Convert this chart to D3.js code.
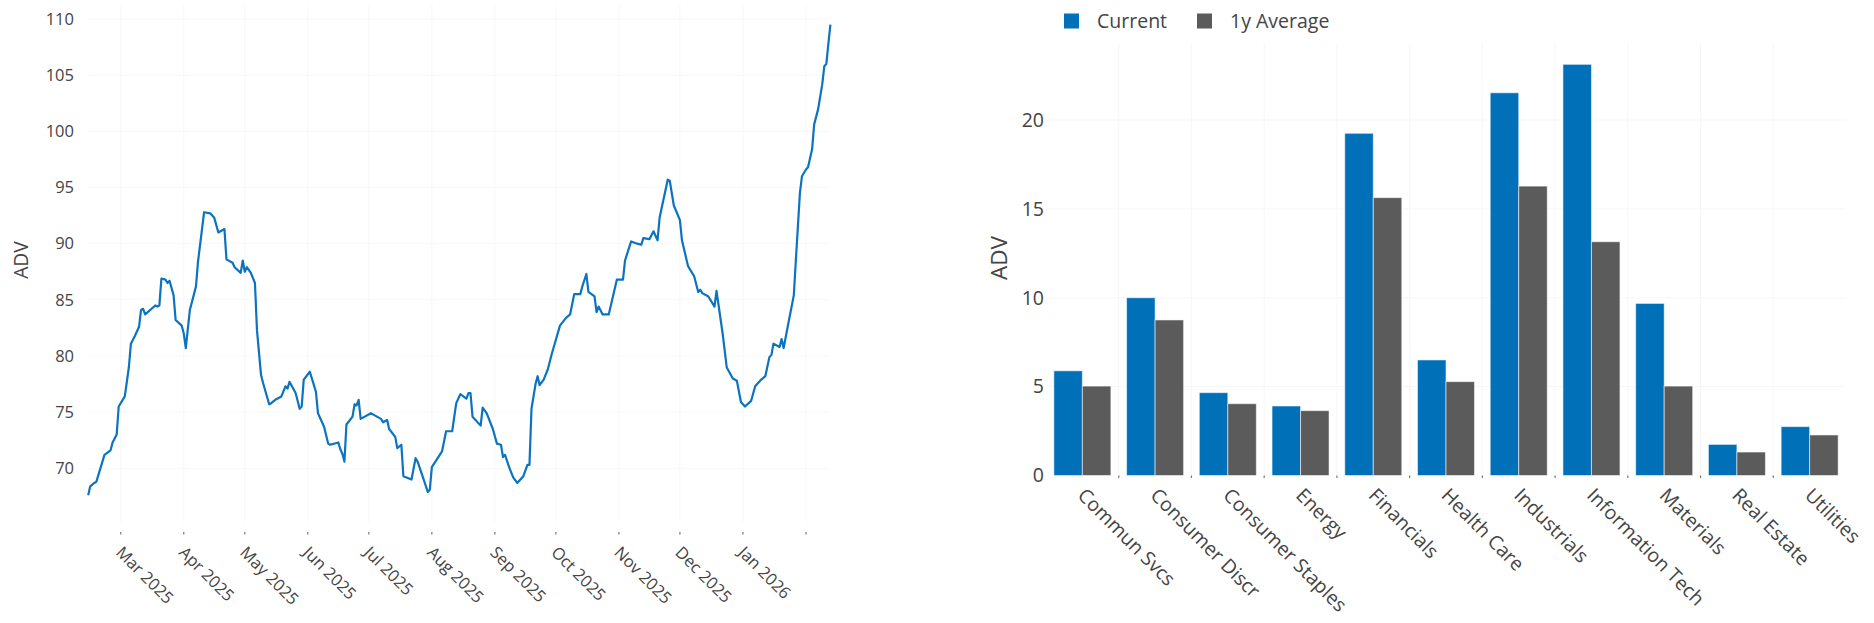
<!DOCTYPE html>
<html><head><meta charset="utf-8">
<script src="https://cdn.jsdelivr.net/npm/d3@7"></script>
<style>html,body{margin:0;padding:0;background:#fff;} svg{display:block;font-family:"Open Sans",sans-serif;}</style>
</head><body>
<svg id="chart" width="1874" height="623"></svg>
<script>
// ---------- Left chart data (ADV time series) ----------
const lineDates = ["2025-02-13","2025-02-14","2025-02-16","2025-02-17","2025-02-19","2025-02-21","2025-02-24","2025-02-25","2025-02-27","2025-02-28",
"2025-03-03","2025-03-05","2025-03-06","2025-03-08","2025-03-10","2025-03-11","2025-03-12","2025-03-13","2025-03-18","2025-03-19","2025-03-20","2025-03-21","2025-03-23","2025-03-24","2025-03-25","2025-03-27","2025-03-28","2025-03-31",
"2025-04-01","2025-04-02","2025-04-04","2025-04-07","2025-04-08","2025-04-11","2025-04-14","2025-04-16","2025-04-18","2025-04-21","2025-04-22","2025-04-25","2025-04-26","2025-04-29","2025-04-30",
"2025-05-01","2025-05-02","2025-05-04","2025-05-06","2025-05-07","2025-05-09","2025-05-10","2025-05-13","2025-05-14","2025-05-16","2025-05-19","2025-05-21","2025-05-22","2025-05-23","2025-05-26","2025-05-28","2025-05-29","2025-05-30",
"2025-06-02","2025-06-05","2025-06-06","2025-06-09","2025-06-11","2025-06-12","2025-06-16","2025-06-17","2025-06-18","2025-06-19","2025-06-20","2025-06-23","2025-06-24","2025-06-25","2025-06-26","2025-06-27",
"2025-07-02","2025-07-03","2025-07-07","2025-07-08","2025-07-10","2025-07-11","2025-07-14","2025-07-15","2025-07-17","2025-07-18","2025-07-22","2025-07-24","2025-07-25","2025-07-28","2025-07-30","2025-07-31",
"2025-08-01","2025-08-06","2025-08-08","2025-08-11","2025-08-13","2025-08-15","2025-08-18","2025-08-19","2025-08-20","2025-08-21","2025-08-25","2025-08-26","2025-08-28","2025-08-31",
"2025-09-02","2025-09-04","2025-09-05","2025-09-06","2025-09-08","2025-09-10","2025-09-12","2025-09-15","2025-09-17","2025-09-18","2025-09-19","2025-09-21","2025-09-22","2025-09-23","2025-09-25","2025-09-27","2025-09-29",
"2025-10-03","2025-10-06","2025-10-08","2025-10-10","2025-10-13","2025-10-14","2025-10-16","2025-10-17","2025-10-20","2025-10-21","2025-10-22","2025-10-24","2025-10-27","2025-10-31",
"2025-11-03","2025-11-04","2025-11-07","2025-11-10","2025-11-12","2025-11-13","2025-11-16","2025-11-18","2025-11-20","2025-11-21","2025-11-25","2025-11-26","2025-11-28",
"2025-12-01","2025-12-02","2025-12-05","2025-12-08","2025-12-10","2025-12-11","2025-12-12","2025-12-15","2025-12-18","2025-12-19","2025-12-22","2025-12-24","2025-12-27","2025-12-29","2025-12-31",
"2026-01-02","2026-01-05","2026-01-07","2026-01-10","2026-01-12","2026-01-14","2026-01-15","2026-01-16","2026-01-19","2026-01-20","2026-01-21","2026-01-23","2026-01-26","2026-01-27","2026-01-28","2026-01-29","2026-01-30",
"2026-02-01","2026-02-02","2026-02-04","2026-02-05","2026-02-07","2026-02-09","2026-02-10","2026-02-11","2026-02-12","2026-02-13"];
const lineValues = [67.6,68.4,68.7,68.8,70.0,71.2,71.6,72.3,73.0,75.5,
76.4,79.0,81.1,81.8,82.6,84.1,84.2,83.7,84.5,84.4,84.5,86.9,86.8,86.5,86.7,85.4,83.2,82.7,
82.0,80.7,84.1,86.2,88.4,92.8,92.7,92.3,91.0,91.3,88.6,88.3,87.9,87.4,88.5,
87.5,87.9,87.4,86.5,82.3,78.3,77.6,75.7,75.8,76.1,76.4,77.3,77.1,77.7,76.7,75.3,75.5,77.9,
78.6,76.8,74.9,73.7,72.2,72.1,72.3,71.7,71.3,70.6,73.9,74.6,75.7,75.6,76.1,74.4,
74.9,74.8,74.4,74.1,74.3,73.5,72.8,71.8,72.1,69.3,69.0,70.9,70.6,69.0,67.9,68.1,
70.1,71.5,73.3,73.3,75.8,76.6,76.2,76.7,76.7,74.6,73.8,75.4,74.9,73.5,
72.2,72.1,71.0,71.2,70.1,69.2,68.7,69.3,70.3,70.3,75.3,77.5,78.2,77.4,77.9,78.8,80.2,
82.7,83.4,83.7,85.5,85.5,86.2,87.3,85.7,85.3,83.9,84.4,83.7,83.7,86.8,
86.8,88.5,90.2,90.0,89.9,90.5,90.4,91.1,90.3,92.3,95.7,95.6,93.4,
92.1,90.3,88.0,87.1,85.7,85.9,85.6,85.3,84.4,85.8,82.0,79.0,78.0,77.8,75.9,
75.5,76.0,77.3,77.9,78.2,79.9,80.1,81.1,80.8,81.5,80.7,82.6,85.4,88.5,91.5,94.5,96.0,
96.6,96.8,98.4,100.6,102.0,104.2,105.8,106.0,107.8,109.5];
const monthTicks = ["2025-03-01","2025-04-01","2025-05-01","2025-06-01","2025-07-01","2025-08-01","2025-09-01","2025-10-01","2025-11-01","2025-12-01","2026-01-01","2026-02-01"];
const monthTickLabels = ["Mar 2025","Apr 2025","May 2025","Jun 2025","Jul 2025","Aug 2025","Sep 2025","Oct 2025","Nov 2025","Dec 2025","Jan 2026",""];
const lineYTicks = [70,75,80,85,90,95,100,105,110];

// ---------- Right chart data (sector ADV) ----------
const sectors = ["Commun Svcs","Consumer Discr","Consumer Staples","Energy","Financials","Health Care","Industrials","Information Tech","Materials","Real Estate","Utilities"];
const currentADV = [5.89,10.0,4.66,3.91,19.25,6.5,21.53,23.13,9.68,1.75,2.75];
const avgADV = [5.03,8.75,4.04,3.65,15.63,5.28,16.28,13.15,5.03,1.32,2.28];
const barYTicks = [0,5,10,15,20];
const seriesNames = ["Current","1y Average"];
const seriesColors = ["#0070b8","#5b5b5b"];

const svg = d3.select("#chart");
const textColor = "#444";
const gridColor = "#f7f7f7";
const parse = d3.utcParse("%Y-%m-%d");

// ================= LEFT: line chart =================
const L = {left: 88.2, right: 830.4, top: 5, bottom: 522, font: 16.5};
const x = d3.scaleUtc().domain([parse("2025-02-13"), parse("2026-02-13")]).range([L.left, L.right]);
const y = d3.scaleLinear().domain([65.22, 111.25]).range([L.bottom, L.top]);
const gL = svg.append("g");

gL.append("g").selectAll("line").data(lineYTicks).join("line")
  .attr("x1", L.left).attr("x2", L.right)
  .attr("y1", d => y(d)).attr("y2", d => y(d))
  .attr("stroke", gridColor).attr("stroke-width", 1);
gL.append("g").selectAll("line").data(monthTicks).join("line")
  .attr("x1", d => x(parse(d))).attr("x2", d => x(parse(d)))
  .attr("y1", L.top).attr("y2", L.bottom)
  .attr("stroke", gridColor).attr("stroke-width", 1);

// x ticks
gL.append("g").selectAll("line").data(monthTicks).join("line")
  .attr("x1", d => x(parse(d))).attr("x2", d => x(parse(d)))
  .attr("y1", 532).attr("y2", 534.5)
  .attr("stroke", "#777").attr("stroke-width", 1.2);
gL.append("g").selectAll("text").data(monthTicks).join("text")
  .attr("transform", d => `translate(${x(parse(d)) - 5.7},553.5) rotate(45)`)
  .attr("text-anchor", "start")
  .attr("font-size", L.font).attr("fill", textColor)
  .text((d, i) => monthTickLabels[i]);

// y tick labels
gL.append("g").selectAll("text").data(lineYTicks).join("text")
  .attr("x", 74).attr("y", d => y(d)).attr("dy", "0.35em")
  .attr("text-anchor", "end").attr("font-size", L.font).attr("fill", textColor)
  .text(d => d);

gL.append("text")
  .attr("transform", "translate(21.5,260) rotate(-90)")
  .attr("text-anchor", "middle").attr("dy", "0.35em")
  .attr("font-size", 19.3).attr("fill", textColor).text("ADV");

const lineData = lineDates.map((d, i) => ({date: parse(d), value: lineValues[i]}));
gL.append("path").datum(lineData)
  .attr("fill", "none").attr("stroke", "#0b73c0").attr("stroke-width", 2.2)
  .attr("stroke-linejoin", "round")
  .attr("d", d3.line().x(d => x(d.date)).y(d => y(d.value)));

// ================= RIGHT: grouped bar chart =================
const R = {left: 1046, right: 1846, top: 43, bottom: 475.5, font: 19.5};
const xb = d3.scaleBand().domain(sectors).range([R.left, R.right]).paddingInner(0.216).paddingOuter(0.108);
const xs = d3.scaleBand().domain(seriesNames).range([0, xb.bandwidth()]);
const yb = d3.scaleLinear().domain([0, 24.33]).range([R.bottom, R.top]);
const gR = svg.append("g");
const step = xb.step();

gR.append("g").selectAll("line").data(barYTicks.filter(d => d > 0)).join("line")
  .attr("x1", R.left).attr("x2", R.right)
  .attr("y1", d => yb(d)).attr("y2", d => yb(d))
  .attr("stroke", gridColor).attr("stroke-width", 1);
const boundaries = sectors.slice(1);
gR.append("g").selectAll("line").data(boundaries).join("line")
  .attr("x1", d => xb(d) - step * 0.108).attr("x2", d => xb(d) - step * 0.108)
  .attr("y1", R.top).attr("y2", R.bottom)
  .attr("stroke", gridColor).attr("stroke-width", 1);
gR.append("g").selectAll("line").data(boundaries).join("line")
  .attr("x1", d => xb(d) - step * 0.108).attr("x2", d => xb(d) - step * 0.108)
  .attr("y1", R.bottom).attr("y2", R.bottom + 2.5)
  .attr("stroke", "#777").attr("stroke-width", 1.2);

const barRows = [];
sectors.forEach((s, i) => {
  barRows.push({sector: s, series: seriesNames[0], value: currentADV[i], color: seriesColors[0]});
  barRows.push({sector: s, series: seriesNames[1], value: avgADV[i], color: seriesColors[1]});
});
gR.append("g").selectAll("rect").data(barRows).join("rect")
  .attr("x", d => xb(d.sector) + xs(d.series))
  .attr("width", xs.bandwidth())
  .attr("y", d => yb(d.value))
  .attr("height", d => yb(0) - yb(d.value))
  .attr("fill", d => d.color)
  .attr("stroke", "rgba(255,255,255,0.55)").attr("stroke-width", 1);

gR.append("g").selectAll("text").data(barYTicks).join("text")
  .attr("x", 1044).attr("y", d => yb(d)).attr("dy", "0.35em")
  .attr("text-anchor", "end").attr("font-size", R.font).attr("fill", textColor)
  .text(d => d);

gR.append("g").selectAll("text").data(sectors).join("text")
  .attr("transform", d => `translate(${xb(d) + xb.bandwidth() / 2 - 5.8},496.5) rotate(45)`)
  .attr("text-anchor", "start").attr("font-size", R.font).attr("fill", textColor)
  .text(d => d);

gR.append("text")
  .attr("transform", "translate(999,258) rotate(-90)")
  .attr("text-anchor", "middle").attr("dy", "0.35em")
  .attr("font-size", 22.5).attr("fill", textColor).text("ADV");

// legend
const legendX = [1064, 1197];
const leg = gR.append("g").selectAll("g").data(seriesNames).join("g")
  .attr("transform", (d, i) => `translate(${legendX[i]},0)`);
leg.append("rect").attr("x", 0).attr("y", 13.5).attr("width", 15).attr("height", 15)
  .attr("fill", (d, i) => seriesColors[i]);
leg.append("text").attr("x", 33).attr("y", 28).attr("font-size", R.font).attr("fill", textColor)
  .text(d => d);
</script>
</body></html>
